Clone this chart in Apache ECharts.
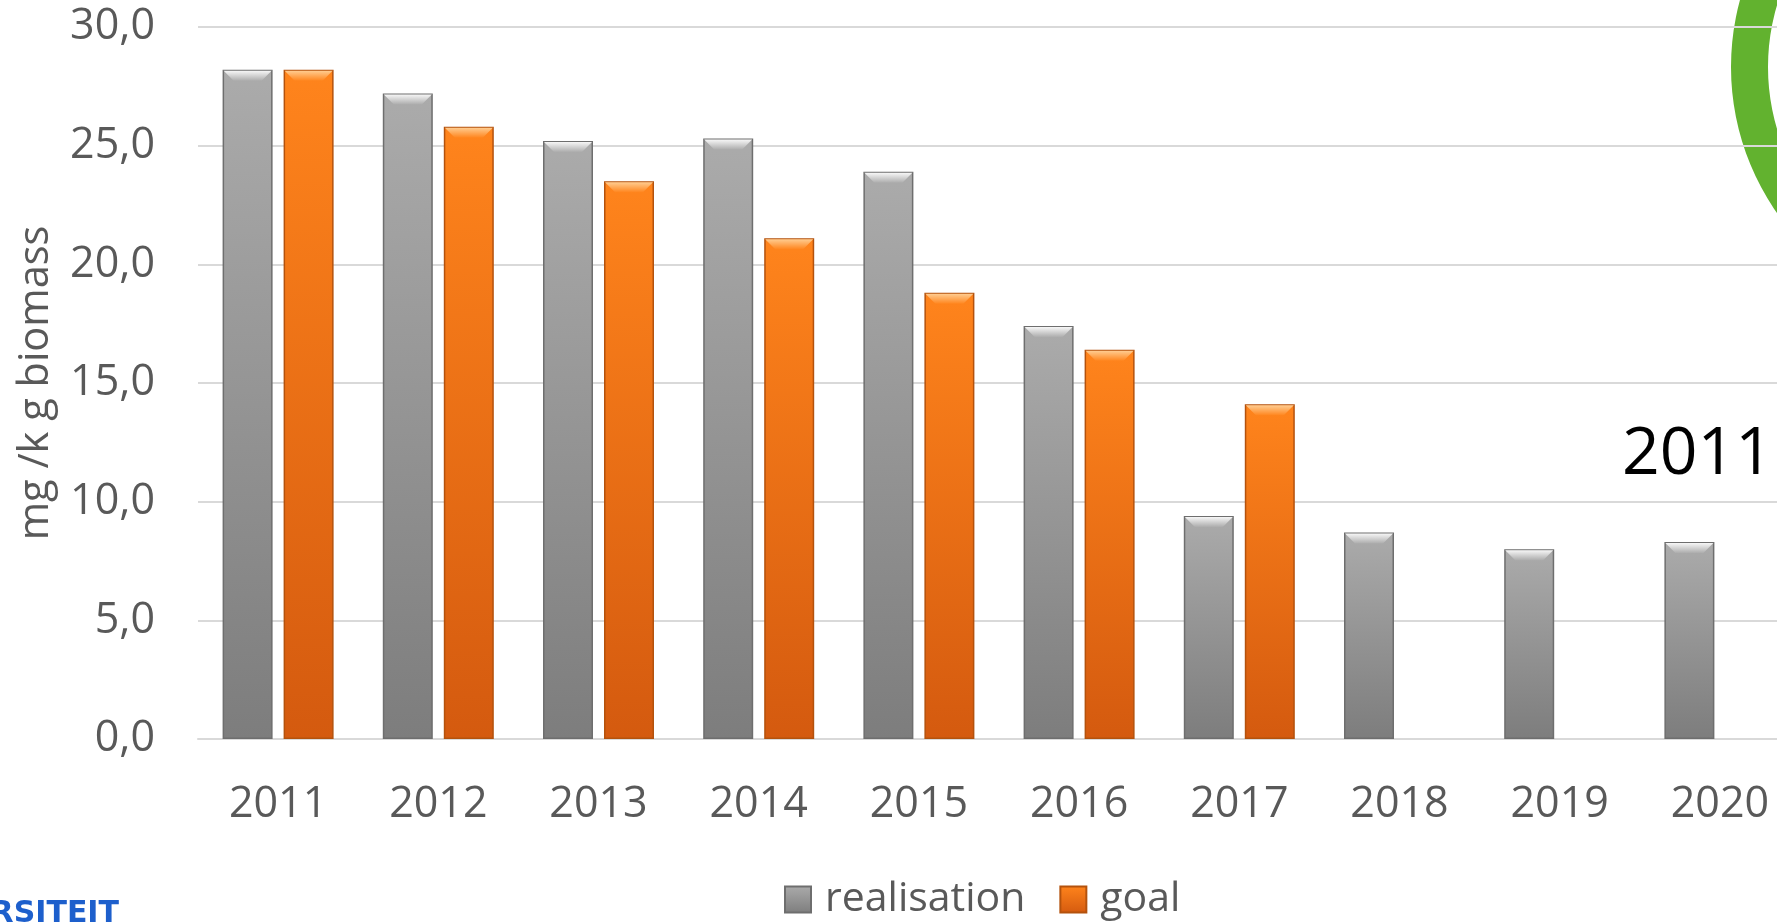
<!DOCTYPE html>
<html>
<head>
<meta charset="utf-8">
<script src="https://cdn.jsdelivr.net/npm/echarts@6/dist/echarts.min.js"></script>
<style>
html,body{margin:0;padding:0;background:#fff;overflow:hidden;width:1777px;height:923px;}
#chart{width:1800px;height:923px;}
</style>
</head>
<body>
<div id="chart"></div>
<script>
const categories = ['2011','2012','2013','2014','2015','2016','2017','2018','2019','2020'];
const realisation = [28.2, 27.2, 25.2, 25.3, 23.9, 17.4, 9.4, 8.7, 8.0, 8.3];
const goal = [28.2, 25.8, 23.5, 21.1, 18.8, 16.4, 14.1, null, null, null];
const yTicks = [0, 5, 10, 15, 20, 25, 30];
const seriesNames = ['realisation', 'goal'];
const yAxisTitle = 'mg /k g biomass';
const sideLabel = '2011';
const logoText = 'UNIVERSITEIT';

const FONT = '"Open Sans", "Liberation Sans", sans-serif';
const TXT = '#595959';
const BAR_W = 50;
const BAR_GAP = 11;

const grayFill = new echarts.graphic.LinearGradient(0, 0, 0, 1, [
  {offset: 0, color: '#ababab'},
  {offset: 1, color: '#7d7d7d'}
]);
const orangeFill = new echarts.graphic.LinearGradient(0, 0, 0, 1, [
  {offset: 0, color: '#ff841c'},
  {offset: 1, color: '#d45a0f'}
]);

function bevel(offset, lightColor, baseColor) {
  return function (params, api) {
    const v = api.value(1);
    if (v == null || isNaN(v)) return null;
    const p = api.coord([api.value(0), v]);
    const cx = p[0] + offset, top = p[1] + 1, h = BAR_W / 2 - 1, b = 10;
    return {
      type: 'polygon',
      shape: {points: [[cx - h, top], [cx + h, top], [cx + h - b, top + b], [cx - h + b, top + b]]},
      style: {
        fill: new echarts.graphic.LinearGradient(0, 0, 0, 1, [
          {offset: 0, color: lightColor}, {offset: 1, color: baseColor}
        ])
      },
      silent: true
    };
  };
}

const half = (BAR_W + BAR_GAP) / 2;

const chart = echarts.init(document.getElementById('chart'), null, {renderer: 'canvas'});
chart.setOption({
  animation: false,
  backgroundColor: '#ffffff',
  grid: {left: 198, right: 0, top: 27, bottom: 184, containLabel: false},
  legend: {
    data: seriesNames,
    left: 779, top: 874,
    itemWidth: 26, itemHeight: 26, itemGap: 34,
    icon: 'rect',
    textStyle: {color: TXT, fontSize: 41, fontFamily: FONT, padding: [0, 0, 0, 9]}
  },
  xAxis: {
    type: 'category',
    data: categories,
    axisLine: {lineStyle: {color: '#d9d9d9', width: 2}},
    axisTick: {show: false},
    axisLabel: {color: TXT, fontSize: 43, fontFamily: FONT, margin: 44, lineHeight: 43}
  },
  yAxis: {
    type: 'value',
    min: yTicks[0], max: yTicks[yTicks.length - 1], interval: yTicks[1] - yTicks[0],
    axisLine: {show: false},
    axisTick: {show: false},
    splitLine: {lineStyle: {color: '#d9d9d9', width: 2}},
    axisLabel: {
      color: TXT, fontSize: 43, fontFamily: FONT, margin: 43,
      formatter: v => v.toFixed(1).replace('.', ',')
    }
  },
  series: [
    {
      name: seriesNames[0], type: 'bar', data: realisation,
      barWidth: BAR_W, barGap: (BAR_GAP / BAR_W * 100) + '%',
      itemStyle: {color: grayFill, borderColor: '#6e6e6e', borderWidth: 1.5}
    },
    {
      name: seriesNames[1], type: 'bar', data: goal,
      barWidth: BAR_W, barGap: (BAR_GAP / BAR_W * 100) + '%',
      itemStyle: {color: orangeFill, borderColor: '#b4520d', borderWidth: 1.5}
    },
    {
      type: 'custom', z: 3,
      data: realisation.map((v, i) => [i, v]),
      encode: {x: 0, y: 1},
      renderItem: bevel(-half, '#f7f7f7', '#adadad')
    },
    {
      type: 'custom', z: 3,
      data: goal.map((v, i) => [i, v]),
      encode: {x: 0, y: 1},
      renderItem: bevel(half, '#ffcc90', '#ff861f')
    }
  ],
  graphic: [
    {
      type: 'ring', z: -10, silent: true,
      shape: {cx: 1986, cy: 67, r: 255, r0: 218},
      style: {fill: '#62b22f'}
    },
    {
      type: 'text', z: 10, silent: true,
      x: 36, y: 383, rotation: Math.PI / 2,
      style: {text: yAxisTitle, fill: TXT, fontSize: 41.5, fontFamily: FONT, align: 'center', verticalAlign: 'middle'}
    },
    {
      type: 'text', z: 10, silent: true,
      x: 1773, y: 455,
      style: {text: sideLabel, fill: '#000000', fontSize: 66, fontFamily: FONT, align: 'right', verticalAlign: 'middle'}
    },
    {
      type: 'text', z: 10, silent: true,
      x: 119, y: 899,
      style: {text: logoText, fill: '#1d5fcc', fontSize: 30, fontWeight: 600, fontFamily: '"DejaVu Sans", sans-serif', align: 'right', verticalAlign: 'top'}
    }
  ]
});
</script>
</body>
</html>
